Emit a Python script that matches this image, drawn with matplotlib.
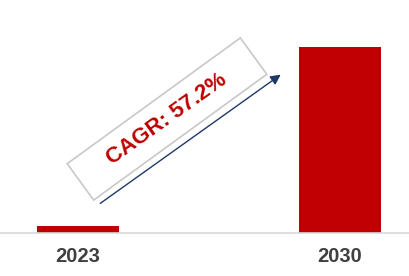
import matplotlib
matplotlib.use("Agg")
import matplotlib.pyplot as plt
from matplotlib.patches import Rectangle

YEARS = ["2023", "2030"]
VALUES = [0.47, 12.5]
CAGR_LABEL = "CAGR: 57.2%"

BAR_COLOR = "#C00000"
TEXT_GRAY = "#404040"
ARROW_COLOR = "#1F3864"

plt.rcParams["font.family"] = ["Liberation Sans", "DejaVu Sans"]

fig = plt.figure(figsize=(4.10, 2.76), dpi=100)
ax = fig.add_axes([0, 43 / 276, 1, 233 / 276])

x = range(len(YEARS))
ax.bar(x, VALUES, width=0.313, color=BAR_COLOR)
ax.set_xlim(-0.298, 1.267)
ax.set_ylim(0, VALUES[1] * 233 / 186)

ax.set_xticks(list(x), YEARS)
ax.tick_params(axis="x", length=0, pad=10, labelsize=14.5, labelcolor=TEXT_GRAY)
for lbl in ax.get_xticklabels():
    lbl.set_fontweight("bold")
ax.set_yticks([])
for side in ["top", "right", "left"]:
    ax.spines[side].set_visible(False)
ax.spines["bottom"].set_color("#D9D9D9")
ax.spines["bottom"].set_linewidth(1.2)

# growth arrow and rotated CAGR box (positions in inches)
ax.annotate(
    "",
    xy=(2.83, 2.03),
    xytext=(0.98, 0.71),
    xycoords=fig.dpi_scale_trans,
    textcoords=fig.dpi_scale_trans,
    arrowprops=dict(arrowstyle="-|>,head_length=0.6,head_width=0.3", color=ARROW_COLOR, lw=1.0),
)
box = Rectangle(
    (1.67 - 1.07, 1.57 - 0.225), 2.14, 0.45,
    angle=36, rotation_point="center",
    transform=fig.dpi_scale_trans,
    facecolor="white", edgecolor="#C8C8C8", linewidth=1.2,
)
fig.add_artist(box)
fig.text(
    1.67, 1.57, CAGR_LABEL, transform=fig.dpi_scale_trans,
    rotation=35.5, rotation_mode="anchor", ha="center", va="center",
    fontsize=16, fontweight="bold", color=BAR_COLOR,
)

fig.savefig("out.png", dpi=100)
